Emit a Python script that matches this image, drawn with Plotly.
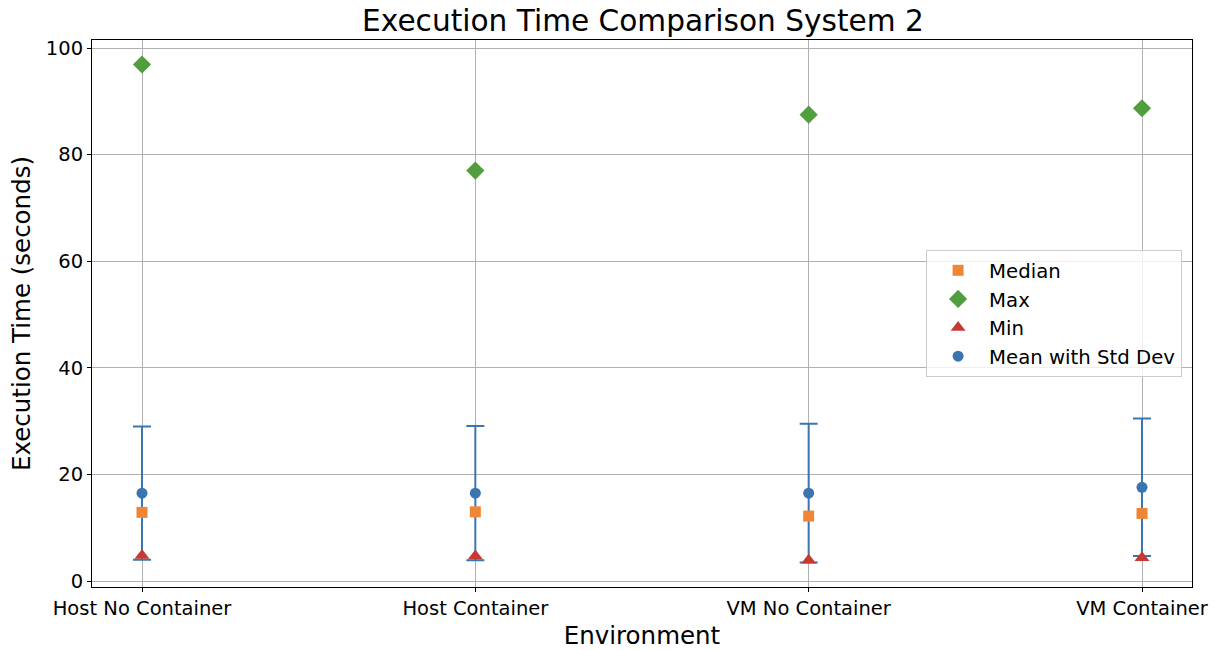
import plotly.graph_objects as go

environments = ["Host No Container", "Host Container", "VM No Container", "VM Container"]
mean_times = [16.5, 16.5, 16.5, 17.6]
std_times = [12.5, 12.6, 13.0, 12.9]
median_times = [12.9, 13.0, 12.2, 12.7]
max_times = [96.9, 77.0, 87.5, 88.7]
min_times = [4.8, 4.7, 3.9, 4.4]

BLUE = "#3a75b0"
ORANGE = "#ef8636"
GREEN = "#519e3e"
RED = "#c53a32"
FONT = "DejaVu Sans"

fig = go.Figure()

fig.add_trace(go.Scatter(
    x=environments, y=mean_times, mode="markers", name="Mean with Std Dev",
    marker=dict(symbol="circle", size=11, color=BLUE),
    error_y=dict(type="data", array=std_times, visible=True,
                 color=BLUE, thickness=2, width=9),
    legendrank=4,
))
fig.add_trace(go.Scatter(
    x=environments, y=median_times, mode="markers", name="Median",
    marker=dict(symbol="square", size=11, color=ORANGE), legendrank=1,
))
fig.add_trace(go.Scatter(
    x=environments, y=max_times, mode="markers", name="Max",
    marker=dict(symbol="diamond", size=14, color=GREEN), legendrank=2,
))
fig.add_trace(go.Scatter(
    x=environments, y=min_times, mode="markers", name="Min",
    marker=dict(symbol="triangle-up", size=13, color=RED), legendrank=3,
))

fig.update_layout(
    width=1220, height=650,
    margin=dict(l=92, r=28, t=40, b=63),
    paper_bgcolor="white", plot_bgcolor="white",
    font=dict(family=FONT, size=19, color="black"),
    title=dict(text="Execution Time Comparison System 2", x=0.527, xanchor="center",
               y=0.968, yanchor="middle", font=dict(size=29.6)),
    legend=dict(x=0.991, y=0.5, xanchor="right", yanchor="middle",
                bgcolor="rgba(255,255,255,0.8)", bordercolor="#cccccc", borderwidth=1,
                font=dict(size=19.7), itemwidth=52, tracegroupgap=0),
    showlegend=True,
)
fig.update_xaxes(
    title=dict(text="Environment", font=dict(size=24.5), standoff=8),
    range=[-0.15, 3.15], showgrid=True, gridcolor="#b0b0b0", gridwidth=1,
    showline=True, linecolor="black", linewidth=1, mirror=True, automargin=False,
    ticks="outside", ticklen=4, tickcolor="black", tickfont=dict(size=19.5),
)
fig.update_yaxes(
    title=dict(text="Execution Time (seconds)", font=dict(size=24.5), standoff=8),
    range=[-1.1, 101.5], tickvals=[0, 20, 40, 60, 80, 100],
    showgrid=True, gridcolor="#b0b0b0", gridwidth=1, zeroline=False,
    showline=True, linecolor="black", linewidth=1, mirror=True, automargin=False,
    ticks="outside", ticklen=4, tickcolor="black", tickfont=dict(size=19.5),
)

fig.write_html("out.html")
